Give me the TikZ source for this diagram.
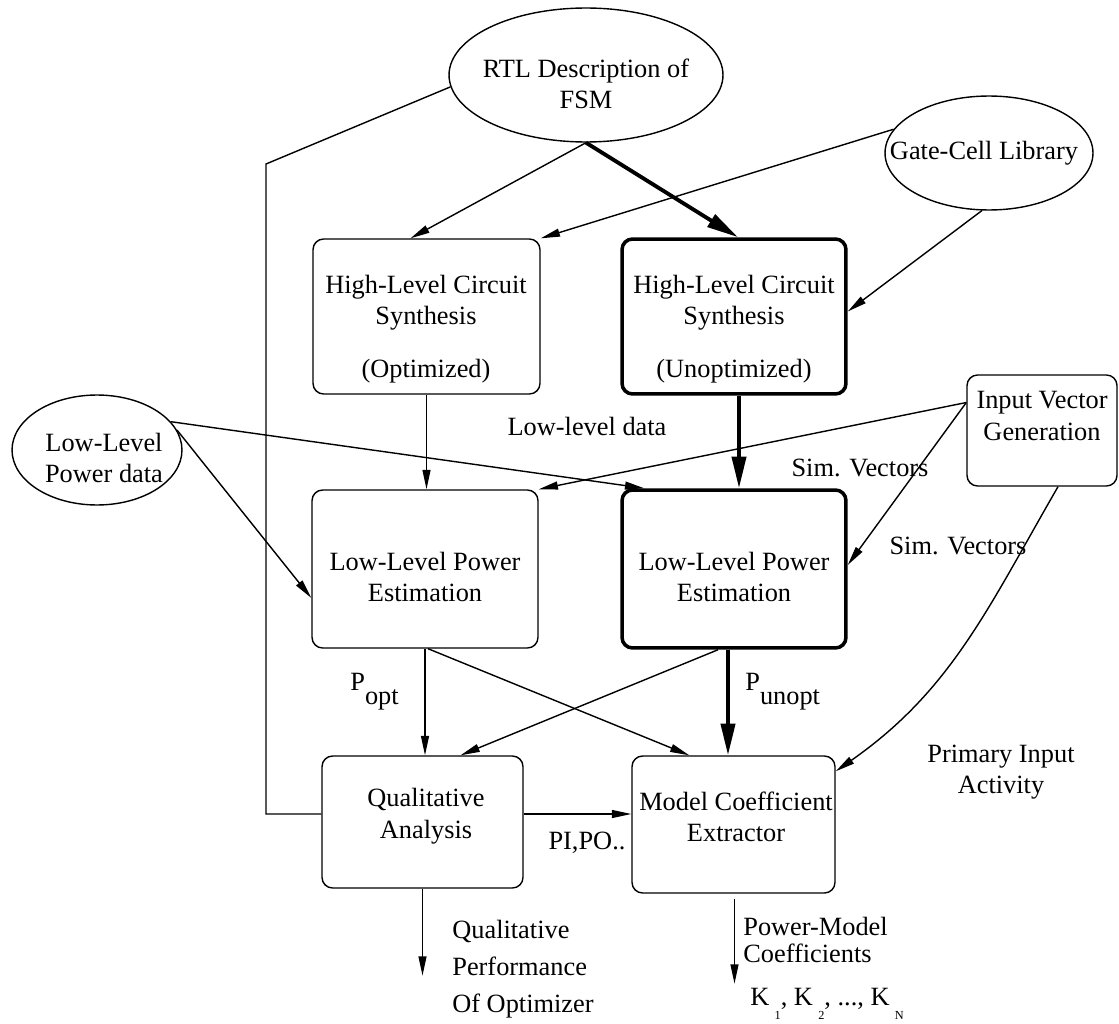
\documentclass[tikz,border=0pt]{standalone}
\usepackage{fontspec}
\setmainfont{Liberation Serif}
\usetikzlibrary{shapes.geometric,arrows.meta,calc}
\newcommand{\lowsub}[2]{#1\raisebox{-8pt}{#2}}
\newcommand{\ksub}[1]{K\hspace{3pt}\raisebox{-8pt}{\fontsize{7}{7}\selectfont #1}}
\begin{document}
\begin{tikzpicture}[x=0.02cm,y=-0.02cm,
  every node/.style={font=\fontsize{15}{18}\selectfont},
  box/.style={draw, rounded corners=6pt, line width=0.8pt, inner sep=0pt},
  boldbox/.style={box, line width=2pt},
  oval/.style={draw, ellipse, line width=0.8pt, inner sep=0pt},
  txt/.style={align=center, inner sep=0pt},
  flow/.style={line width=0.8pt, -{Triangle[length=11pt,width=4.5pt]}},
  mainflow/.style={line width=2.2pt, -{Triangle[length=18pt,width=8pt]}},
  link/.style={line width=0.8pt},
]
\useasboundingbox (0,0) rectangle (1119,1024);

% inputs
\node[oval, minimum width=5.48cm, minimum height=2.68cm] (rtl) at (586,75) {};
\node[txt] (rtlt) at (586,84) {RTL Description of\\FSM};
\node[oval, minimum width=4.16cm, minimum height=2.28cm] (gate) at (989,153) {};
\node[txt] (gatet) at (984,153) {Gate-Cell Library};
\node[oval, minimum width=3.4cm, minimum height=2.2cm] (llp) at (97,450) {};
\node[txt] (llpt) at (104,458) {Low-Level\\Power data};

% synthesis
\node[box, minimum width=4.54cm, minimum height=3.1cm] (hlo) at (426.5,316.5) {};
\node[txt] (hlot) at (426,329) {High-Level Circuit\\Synthesis\\[12pt](Optimized)};
\node[boldbox, minimum width=4.48cm, minimum height=3.1cm] (hlu) at (734,316.5) {};
\node[txt] (hlut) at (734,329) {High-Level Circuit\\Synthesis\\[12pt](Unoptimized)};

% power estimation
\node[box, minimum width=4.52cm, minimum height=3.16cm] (lpo) at (425,569) {};
\node[txt] (lpot) at (425,577) {Low-Level Power\\Estimation};
\node[boldbox, minimum width=4.48cm, minimum height=3.16cm] (lpu) at (734,569) {};
\node[txt] (lput) at (734,577) {Low-Level Power\\Estimation};
\node[box, minimum width=3.0cm, minimum height=2.22cm] (ivg) at (1042,430.5) {};
\node[txt] (ivgt) at (1042,416) {Input Vector\\Generation};

% analysis
\node[box, minimum width=4.02cm, minimum height=2.64cm] (qa) at (422.5,822) {};
\node[txt] (qat) at (426,816) {Qualitative\\Analysis};
\node[box, minimum width=4.06cm, minimum height=2.74cm] (mce) at (733.5,824.5) {};
\node[txt] (mcet) at (736,817) {Model Coefficient\\Extractor};

% connectors
\draw[link] (rtl.185) -- (266,164) |- ($(qa.west)+(0,-8)$);
\draw[flow] (rtl.south) -- ($(hlo.north)+(-16,0)$);
\draw[mainflow] (rtl.south) -- ($(hlu.north)+(4,0)$);
\draw[flow] (gate.166) -- (hlo.north east);
\draw[flow] (gate.263) -- ($(hlu.east)+(0,-5)$);
\draw[flow] (hlo.south) -- (hlo.south |- lpo.north);
\draw[mainflow] ($(hlu.south)+(5,0)$) -- ($(lpu.north)+(5,0)$);
\draw[flow] (llp.21) -- ($(lpu.north west)+(24,0)$);
\draw[flow] (llp.14) -- ($(lpo.west)+(0,29)$);
\coordinate (ivgl) at ($(ivg.west)+(0,-28)$);
\draw[flow] (ivgl) -- (lpo.north east);
\draw[flow] (ivgl) -- ($(lpu.east)+(0,-4)$);
\draw[flow] ($(ivg.south)+(16,0)$) to[out=-120,in=35] ($(mce.north east)+(0,16)$);
\draw[flow] (lpo.south) -- (lpo.south |- qa.north);
\draw[flow] ($(lpo.south)+(3,0)$) -- ($(mce.north west)+(58,0)$);
\draw[flow] ($(lpu.south)+(-16,0)$) -- ($(qa.north)+(38,0)$);
\coordinate (pu) at ($(lpu.south)+(-6,0)$);
\draw[mainflow] (pu) -- (pu |- mce.north);
\coordinate (pi) at ($(qa.east)+(0,-8)$);
\draw[flow] (pi) -- (pi -| mce.west);
\coordinate (qout) at ($(qa.south)+(0,87)$);
\draw[flow] (qa.south) -- (qout);
\coordinate (mout) at ($(mce.south)+(1,90)$);
\draw[flow] ($(mce.south)+(1,5)$) -- (mout);

% connector labels
\node[txt] (lld) at (587,426) {Low-level data};
\node[txt] (sv1) at (860,468) {Sim. Vectors};
\node[txt] (sv2) at (958,546) {Sim. Vectors};
\node[txt, anchor=base west] (popt) at (350,690) {\lowsub{P}{opt}};
\node[txt, anchor=base west] (punopt) at (745,690) {\lowsub{P}{unopt}};
\node[txt] (pipo) at (587,843) {PI,PO..};
\node[txt] (pia) at (1001,772) {Primary Input\\Activity};
\node[txt, align=left, anchor=west, font=\fontsize{15}{21}\selectfont] (qperf) at (452,969) {Qualitative\\Performance\\Of Optimizer};
\node[txt, align=left, anchor=west, font=\fontsize{15}{15}\selectfont] (pmc) at (743,940) {Power-Model\\Coefficients};
\node[txt, anchor=base west] (kn) at (750,1005) {\ksub{1}, \ksub{2}, ..., \ksub{N}};
\end{tikzpicture}
\end{document}
